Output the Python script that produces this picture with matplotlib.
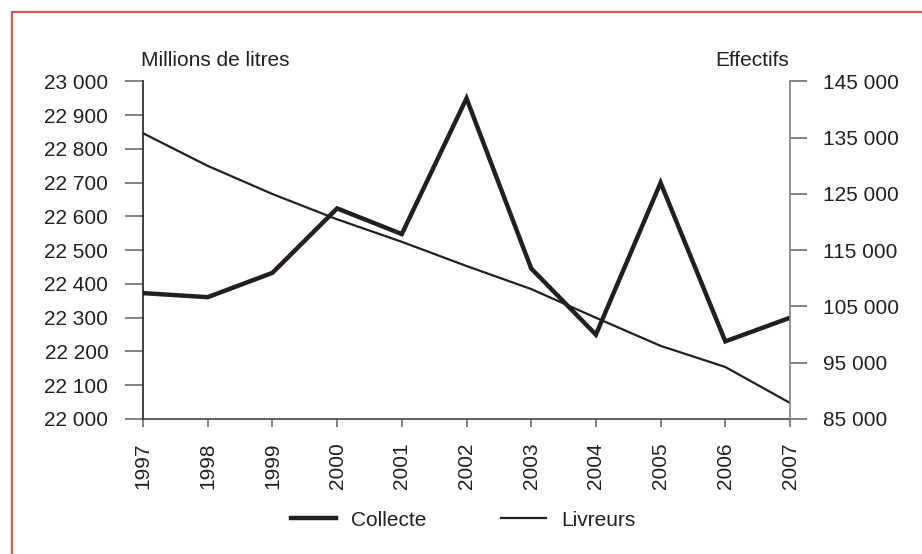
import matplotlib
matplotlib.use("Agg")
import matplotlib.pyplot as plt
from matplotlib.patches import Rectangle
from matplotlib.ticker import FuncFormatter, MultipleLocator, FixedLocator

plt.rcParams['font.family'] = ['Liberation Sans', 'DejaVu Sans']

years = ['1997', '1998', '1999', '2000', '2001', '2002', '2003', '2004', '2005', '2006', '2007']
collecte = [22373, 22361, 22433, 22624, 22548, 22950, 22446, 22250, 22700, 22230, 22300]
livreurs = [135800, 130000, 125000, 120500, 116500, 112200, 108100, 103000, 98000, 94250, 87850]
right_ticks = [85000, 95000, 105000, 115000, 125000, 135000, 145000]

left_label = 'Millions de litres'
right_label = 'Effectifs'
legend_labels = ['Collecte', 'Livreurs']

W, H = 922, 554
fig = plt.figure(figsize=(W / 100, H / 100), dpi=100)
ax = fig.add_axes([143 / W, 1 - 419 / H, (790 - 143) / W, (419 - 81.5) / H])
ax2 = ax.twinx()

x = list(range(len(years)))
ink = '#231f20'
l1, = ax.plot(x, collecte, color=ink, lw=3.2, solid_joinstyle='miter', label=legend_labels[0], zorder=3)
l2, = ax2.plot(x, livreurs, color=ink, lw=1.6, label=legend_labels[1], zorder=2)

fmt = FuncFormatter(lambda v, p: f"{int(round(v)):,}".replace(',', ' '))

ax.set_xlim(0, len(years) - 1)
ax.set_ylim(22000, 23000)
ax.yaxis.set_major_locator(MultipleLocator(100))
ax.yaxis.set_major_formatter(fmt)
ax2.set_ylim(right_ticks[0], right_ticks[-1])
ax2.yaxis.set_major_locator(FixedLocator(right_ticks))
ax2.yaxis.set_major_formatter(fmt)

ax.set_xticks(x)
ax.set_xticklabels(years, rotation=90)

fs = 15
ax.tick_params(axis='y', labelsize=fs, length=13, width=1.2, pad=12, color='#6d6d6d', labelcolor=ink)
ax.tick_params(axis='x', labelsize=fs, length=6, width=1.2, pad=11, color='#6d6d6d', labelcolor=ink)
ax2.tick_params(axis='y', labelsize=fs, length=12.5, width=1.2, pad=11, color='#6d6d6d', labelcolor=ink)

for a in (ax, ax2):
    a.spines['top'].set_visible(False)
    a.patch.set_visible(False)
ax.spines['left'].set_color(ink)
ax.spines['left'].set_linewidth(1.2)
ax.spines['bottom'].set_color('#444444')
ax.spines['bottom'].set_linewidth(1.2)
ax.spines['right'].set_visible(False)
ax2.spines['left'].set_visible(False)
ax2.spines['bottom'].set_visible(False)
ax2.spines['right'].set_color('#808080')
ax2.spines['right'].set_linewidth(1.2)

fig.text(141 / W, 1 - 60 / H, left_label, fontsize=fs, color=ink, ha='left', va='center')
fig.text(789 / W, 1 - 60 / H, right_label, fontsize=fs, color=ink, ha='right', va='center')

fig.legend([l1, l2], legend_labels, loc='center', bbox_to_anchor=(463 / W, 1 - 520 / H),
           ncol=2, frameon=False, fontsize=fs, handlelength=2.15, handletextpad=0.72,
           columnspacing=3.6, labelcolor=ink)

fig.patches.append(Rectangle((12 / W, -0.1), 1.2, 1 - 12 / H + 0.1, transform=fig.transFigure,
                             fill=False, edgecolor='#cf5f59', lw=1.6, zorder=0))

fig.savefig('out.png', dpi=100, facecolor='white')
